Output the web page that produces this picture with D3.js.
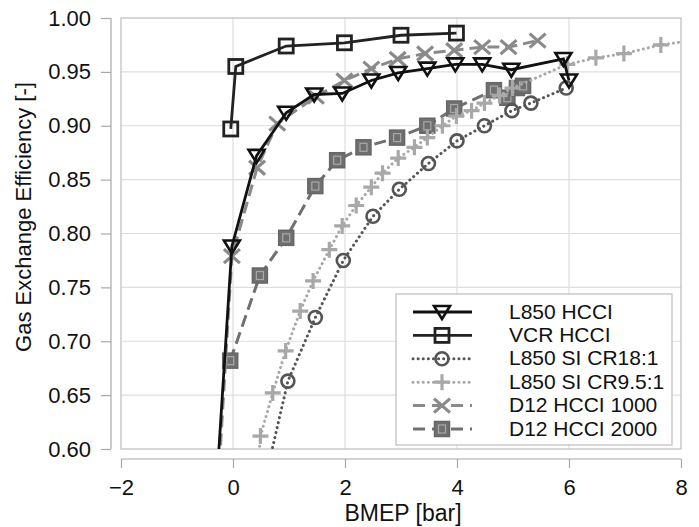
<!DOCTYPE html>
<html><head><meta charset="utf-8">
<script src="https://cdn.jsdelivr.net/npm/d3@7"></script>
<style>body{margin:0;background:#fff}svg{display:block;font-family:"Liberation Sans",Arial,sans-serif}</style>
</head><body><svg id="c" width="699" height="527"></svg>
<script>
const xTicks = [-2,0,2,4,6,8];
const yTicks = [0.60,0.65,0.70,0.75,0.80,0.85,0.90,0.95,1.00];
const seriesNames = ["L850 HCCI","VCR HCCI","L850 SI CR18:1","L850 SI CR9.5:1","D12 HCCI 1000","D12 HCCI 2000"];

const l850HcciX = [-0.35,-0.02,0.42,0.95,1.45,1.95,2.47,2.95,3.47,3.97,4.45,4.97,5.9,6.0];
const l850HcciY = [0.52,0.788,0.872,0.912,0.929,0.930,0.942,0.949,0.953,0.957,0.957,0.952,0.962,0.942];
const vcrHcciX = [-0.04,0.05,0.95,1.99,3.0,3.99];
const vcrHcciY = [0.897,0.955,0.974,0.977,0.984,0.986];
const cr18X = [0.46,0.98,1.47,1.97,2.5,2.97,3.49,4.0,4.49,4.98,5.32,5.95];
const cr18Y = [0.546,0.663,0.722,0.775,0.816,0.841,0.865,0.886,0.900,0.914,0.921,0.935];
const cr95X = [0.42,0.49,0.71,0.94,1.2,1.43,1.72,1.95,2.2,2.47,2.67,2.95,3.24,3.47,3.74,3.99,4.26,4.49,4.76,4.99,5.97,6.48,6.98,7.64,8.3];
const cr95Y = [0.56,0.612,0.652,0.691,0.728,0.756,0.785,0.807,0.826,0.843,0.856,0.870,0.880,0.889,0.900,0.909,0.914,0.921,0.928,0.935,0.957,0.963,0.967,0.975,0.980];
const d1000X = [-0.32,-0.02,0.43,0.79,1.48,1.99,2.47,2.94,3.43,3.95,4.45,4.92,5.44];
const d1000Y = [0.52,0.779,0.861,0.902,0.927,0.942,0.953,0.962,0.967,0.970,0.973,0.973,0.979];
const d2000X = [-0.05,0.48,0.95,1.47,1.86,2.33,2.93,3.47,3.95,4.66,4.9,5.07,5.18];
const d2000Y = [0.682,0.761,0.796,0.844,0.868,0.880,0.889,0.900,0.916,0.933,0.926,0.935,0.937];

const svg = d3.select("#c");
const x = d3.scaleLinear().domain([-2,8]).range([121,681]);
const y = d3.scaleLinear().domain([0.6,1.0]).range([449,18]);

svg.append("defs").append("clipPath").attr("id","clip")
  .append("rect").attr("x",121).attr("y",18).attr("width",560).attr("height",431);

// grid
const grid = svg.append("g");
grid.selectAll(".gx").data(xTicks.slice(1,-1)).join("line")
  .attr("x1",d=>x(d)).attr("x2",d=>x(d)).attr("y1",18).attr("y2",449)
  .attr("stroke","#dedede").attr("stroke-width",1.2);
grid.selectAll(".gy").data(yTicks.slice(1,-1)).join("line")
  .attr("y1",d=>y(d)).attr("y2",d=>y(d)).attr("x1",121).attr("x2",681)
  .attr("stroke","#dedede").attr("stroke-width",1.2);
svg.append("rect").attr("x",121).attr("y",18).attr("width",560).attr("height",431)
  .attr("fill","none").attr("stroke","#bdbdbd").attr("stroke-width",1.2);

// axes
const xAxis = svg.append("g").attr("transform","translate(0,459)")
  .call(d3.axisBottom(x).tickValues(xTicks).tickSize(9).tickPadding(11).tickFormat(d3.format("d")));
const yAxis = svg.append("g").attr("transform","translate(111,0)")
  .call(d3.axisLeft(y).tickValues(yTicks).tickSize(10).tickPadding(10).tickFormat(d3.format(".2f")));
[xAxis,yAxis].forEach(a=>{
  a.select(".domain").attr("stroke","#a8a8a8").attr("stroke-width",1.2);
  a.selectAll(".tick line").attr("stroke","#a8a8a8").attr("stroke-width",1.2);
  a.selectAll("text").attr("font-size",22).attr("fill","#111").attr("font-family","Liberation Sans, Arial, sans-serif");
});
xAxis.select(".domain").attr("d","M121,0V0H681V0");
yAxis.select(".domain").attr("d","M0,18H0V449H0");

svg.append("text").attr("x",403).attr("y",521).attr("text-anchor","middle")
  .attr("font-size",23).attr("fill","#111").text("BMEP [bar]");
svg.append("text").attr("transform","translate(31,217) rotate(-90)").attr("text-anchor","middle")
  .attr("font-size",22).attr("fill","#111").text("Gas Exchange Efficiency [-]");

// marker painters
function tri(g,c){g.append("path").attr("d","M-8,-6L8,-6L0,7Z").attr("fill","none").attr("stroke",c).attr("stroke-width",2.6).attr("stroke-linejoin","miter");}
function sq(g,c){g.append("rect").attr("x",-7).attr("y",-7).attr("width",14).attr("height",14).attr("fill","none").attr("stroke",c).attr("stroke-width",2.8);}
function circ(g,c){g.append("circle").attr("r",6.5).attr("fill","none").attr("stroke",c).attr("stroke-width",2.6);}
function plus(g,c){g.append("path").attr("d","M-8,0H8M0,-8V8").attr("stroke",c).attr("stroke-width",3.2);}
function cross(g,c){g.append("path").attr("d","M-8,-7L8,7M-8,7L8,-7").attr("stroke",c).attr("stroke-width",3.2);}
function fsq(g,c){g.append("rect").attr("x",-7.5).attr("y",-7.5).attr("width",15).attr("height",15).attr("fill","#6f6f6f").attr("stroke","#666").attr("stroke-width",1.5);
  g.append("rect").attr("x",-3.5).attr("y",-4).attr("width",7).attr("height",8).attr("fill","none").attr("stroke","#a9a9a9").attr("stroke-width",1.2);}

const series = [
  {name:seriesNames[5], xs:d2000X, ys:d2000Y, color:"#707070", w:3, dash:"12,6", cap:"butt", mk:fsq, mc:"#6f6f6f"},
  {name:seriesNames[3], xs:cr95X, ys:cr95Y, color:"#a8a8a8", w:3, dash:"0.1,5", cap:"round", mk:plus, mc:"#a8a8a8"},
  {name:seriesNames[2], xs:cr18X, ys:cr18Y, color:"#555", w:3, dash:"0.1,5", cap:"round", mk:circ, mc:"#555"},
  {name:seriesNames[4], xs:d1000X, ys:d1000Y, color:"#8a8a8a", w:3, dash:"12,6", cap:"butt", mk:cross, mc:"#8a8a8a"},
  {name:seriesNames[0], xs:l850HcciX, ys:l850HcciY, color:"#111", w:2.8, dash:null, cap:"butt", mk:tri, mc:"#111"},
  {name:seriesNames[1], xs:vcrHcciX, ys:vcrHcciY, color:"#222", w:2.8, dash:null, cap:"butt", mk:sq, mc:"#222"}
];

const plot = svg.append("g").attr("clip-path","url(#clip)");
const line = d3.line().x(d=>x(d[0])).y(d=>y(d[1]));
series.forEach(s=>{
  const pts = s.xs.map((v,i)=>[v,s.ys[i]]);
  plot.append("path").datum(pts).attr("d",line).attr("fill","none")
    .attr("stroke",s.color).attr("stroke-width",s.w).attr("stroke-dasharray",s.dash)
    .attr("stroke-linecap",s.cap);
  pts.forEach(p=>{
    const g = plot.append("g").attr("transform",`translate(${x(p[0])},${y(p[1])})`);
    s.mk(g,s.mc);
  });
});

// legend
const lg = svg.append("g");
lg.append("rect").attr("x",396).attr("y",294).attr("width",276).attr("height",151)
  .attr("fill","#fff").attr("stroke","#bdbdbd").attr("stroke-width",1.2);
const order = [4,5,2,1,3,0];
order.forEach((si,i)=>{
  const s = series[si];
  const cy = 312 + i*23.4;
  lg.append("line").attr("x1",413).attr("x2",472).attr("y1",cy).attr("y2",cy)
    .attr("stroke",s.color).attr("stroke-width",s.w)
    .attr("stroke-dasharray",s.dash ? (s.cap==="round" ? "0.1,5" : "12,7") : null)
    .attr("stroke-linecap",s.cap);
  const g = lg.append("g").attr("transform",`translate(442,${cy})`);
  s.mk(g,s.mc);
  lg.append("text").attr("x",509).attr("y",cy+6.5).attr("font-size",21).attr("fill","#111").text(s.name);
});
</script></body></html>
